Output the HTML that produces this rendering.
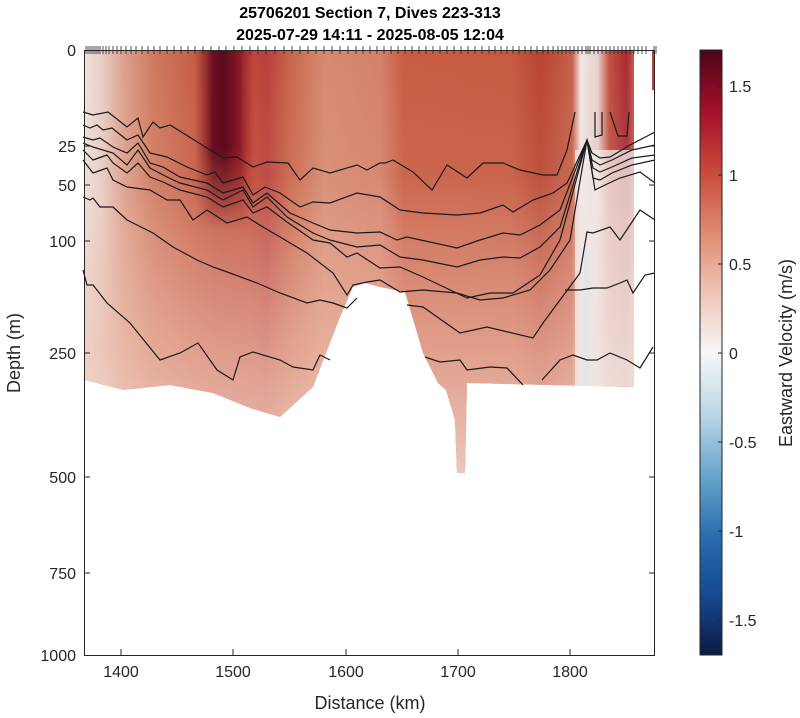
<!DOCTYPE html>
<html><head><meta charset="utf-8"><style>
body{margin:0;background:#fff;}
svg{display:block;font-family:"Liberation Sans",Arial,sans-serif;}
</style></head><body>
<svg width="800" height="718" viewBox="0 0 800 718" xmlns="http://www.w3.org/2000/svg">
<defs>
<linearGradient id="hx" x1="84" y1="0" x2="655" y2="0" gradientUnits="userSpaceOnUse">
<stop offset="0" stop-color="#eee2de"/>
<stop offset="0.03" stop-color="#e8cfc6"/>
<stop offset="0.07" stop-color="#dca08c"/>
<stop offset="0.12" stop-color="#cf7a60"/>
<stop offset="0.19" stop-color="#c65e46"/>
<stop offset="0.235" stop-color="#c0503e"/>
<stop offset="0.29" stop-color="#c04a3a"/>
<stop offset="0.32" stop-color="#b8403a"/>
<stop offset="0.36" stop-color="#c8644a"/>
<stop offset="0.42" stop-color="#d68a70"/>
<stop offset="0.52" stop-color="#d4806a"/>
<stop offset="0.56" stop-color="#c85c42"/>
<stop offset="0.75" stop-color="#c55a40"/>
<stop offset="0.8" stop-color="#b84430"/>
<stop offset="0.855" stop-color="#c66048"/>
<stop offset="0.87" stop-color="#f0e6e4"/>
<stop offset="0.9" stop-color="#e6d0cc"/>
<stop offset="0.92" stop-color="#c25040"/>
<stop offset="0.95" stop-color="#a82a34"/>
<stop offset="0.965" stop-color="#c86050"/>
<stop offset="0.966" stop-color="#ffffff"/>
<stop offset="1" stop-color="#ffffff"/>
</linearGradient>
<linearGradient id="dk" x1="195" y1="0" x2="255" y2="0" gradientUnits="userSpaceOnUse">
<stop offset="0" stop-color="#8a1a28" stop-opacity="0"/>
<stop offset="0.3" stop-color="#6a0f20"/>
<stop offset="0.5" stop-color="#5a0a1c"/>
<stop offset="0.75" stop-color="#8c1a28"/>
<stop offset="1" stop-color="#a82a2c" stop-opacity="0"/>
</linearGradient>
<linearGradient id="dkv" x1="0" y1="50" x2="0" y2="230" gradientUnits="userSpaceOnUse">
<stop offset="0" stop-color="#fff"/>
<stop offset="0.55" stop-color="#fff"/>
<stop offset="1" stop-color="#000"/>
</linearGradient>
<mask id="dm"><rect x="180" y="50" width="100" height="200" fill="url(#dkv)"/></mask>
<linearGradient id="vy" x1="0" y1="50" x2="0" y2="480" gradientUnits="userSpaceOnUse">
<stop offset="0" stop-color="#f2cfc2" stop-opacity="0"/>
<stop offset="0.3" stop-color="#f2cfc2" stop-opacity="0.1"/>
<stop offset="0.5" stop-color="#efc4b4" stop-opacity="0.4"/>
<stop offset="0.7" stop-color="#efc4b4" stop-opacity="0.65"/>
<stop offset="1" stop-color="#f3dcd4" stop-opacity="0.85"/>
</linearGradient>
<linearGradient id="cb" x1="0" y1="50" x2="0" y2="655" gradientUnits="userSpaceOnUse">
<stop offset="0" stop-color="#4a0618"/>
<stop offset="0.1" stop-color="#a50f2a"/>
<stop offset="0.2" stop-color="#c8483a"/>
<stop offset="0.3" stop-color="#de8a70"/>
<stop offset="0.4" stop-color="#efc4b4"/>
<stop offset="0.5" stop-color="#f7f7f7"/>
<stop offset="0.6" stop-color="#bcd8e6"/>
<stop offset="0.7" stop-color="#6aa6cc"/>
<stop offset="0.8" stop-color="#2a6fb0"/>
<stop offset="0.9" stop-color="#154a90"/>
<stop offset="1" stop-color="#0b1a45"/>
</linearGradient>
<clipPath id="dc"><polygon points="84,50 634,50 634,387 467,383 465,473 457,473 455,420 446,390 438,383 423,353 405,292 380,287 365,283 353,287 340,317 313,387 280,417 250,408 213,393 170,385 123,390 84,380"/></clipPath>
</defs>
<g clip-path="url(#dc)">
<rect x="84" y="50" width="571" height="440" fill="url(#hx)"/>
<rect x="84" y="50" width="571" height="440" fill="url(#vy)"/>
<rect x="195" y="50" width="60" height="200" fill="url(#dk)" mask="url(#dm)"/>
<rect x="575" y="150" width="59" height="240" fill="#f2ebea" opacity="0.75"/>
<rect x="584" y="250" width="6" height="140" fill="#dfe6ea" opacity="0.8"/>
</g>
<rect x="652" y="50" width="3" height="40" fill="#c04040"/>
<g fill="none" stroke="#1a1a1a" stroke-width="1.2">
<polyline points="83,112 93,115 108,112 127,127 138,118 143,137 153,122 160,128 170,125 183,133 223,158 237,157 253,167 267,162 288,163 300,180 313,168 330,173 357,165 367,170 380,163 385,163 393,160 413,172 432,190 447,165 467,178 483,163 503,163 520,170 543,175 557,175 567,150 575,112"/>
<polyline points="595,112 595,137 602,135 602,112"/>
<polyline points="610,112 618,136 627,136 629,112"/>
<polyline points="83,125 90,128 97,125 103,130 112,128 127,140 138,135 150,153 167,157 187,167 207,175 215,172 223,183 243,177 253,195 265,187 280,193 300,207 313,202 330,203 357,193 380,197 400,210 423,213 457,215 480,213 503,205 513,212 533,200 553,193 567,183 587,140 592,153 600,158 610,157 630,145 655,132"/>
<polyline points="83,137 93,140 100,138 113,147 127,153 138,143 150,163 163,167 180,177 207,183 223,193 243,187 253,203 267,193 290,213 313,223 330,230 357,233 380,232 397,240 407,237 430,242 457,248 480,240 503,233 520,235 540,225 560,210 587,140 592,160 600,165 612,160 632,150 655,145"/>
<polyline points="83,143 93,147 113,153 127,165 138,150 150,168 167,177 180,183 207,190 223,200 243,190 253,207 267,197 287,217 313,233 330,240 357,247 380,245 400,257 423,260 457,267 480,260 503,257 520,258 540,247 560,227 587,140 593,168 600,172 612,167 632,158 655,155"/>
<polyline points="83,150 93,160 107,155 113,163 127,173 138,163 150,177 163,182 180,190 207,197 223,207 243,200 253,213 267,207 287,222 313,240 330,243 347,257 357,253 380,268 400,267 423,277 467,298 490,293 513,293 540,275 560,240 587,140 593,178 600,180 612,173 632,165 655,160"/>
<polyline points="83,160 93,173 107,168 113,180 127,187 150,190 167,200 180,200 193,220 207,210 227,223 247,217 263,227 280,237 307,253 333,273 347,295 353,285 367,282 380,280 400,292 423,290 457,293 480,300 503,298 530,290 550,270 570,240 587,140 595,190 605,185 620,178 640,172 655,183"/>
<polyline points="83,197 90,200 93,198 100,207 113,207 127,220 153,233 173,247 197,260 213,267 230,273 257,283 280,293 307,303 320,300 333,303 347,308 357,298"/>
<polyline points="407,305 423,307 460,333 487,327 533,338 543,323 560,300 580,273 587,232 593,233 610,227 620,240 640,210 655,220"/>
<polyline points="83,270 87,285 93,285 107,303 130,323 160,360 180,353 198,343 217,370 233,380 240,357 253,352 280,360 293,367 313,370 320,355 330,360"/>
<polyline points="425,357 440,362 460,360 467,370 490,367 507,368 523,385"/>
<polyline points="542,380 560,360 573,355 587,360 597,360 610,353 627,360 640,368 653,347"/>
<polyline points="565,290 580,290 593,288 607,288 620,283 627,280 633,293 645,275 655,273"/>
</g>
<g stroke="#262626" stroke-width="1" fill="none">
<rect x="84.5" y="50.5" width="570" height="605"/>
</g>
<g stroke="#262626" stroke-width="1">
<line x1="84" y1="146" x2="90" y2="146"/><line x1="84" y1="185" x2="90" y2="185"/><line x1="84" y1="241" x2="90" y2="241"/><line x1="84" y1="353" x2="90" y2="353"/><line x1="84" y1="477" x2="90" y2="477"/><line x1="84" y1="573" x2="90" y2="573"/>
<line x1="649" y1="146" x2="655" y2="146"/><line x1="649" y1="185" x2="655" y2="185"/><line x1="649" y1="241" x2="655" y2="241"/><line x1="649" y1="353" x2="655" y2="353"/><line x1="649" y1="477" x2="655" y2="477"/><line x1="649" y1="573" x2="655" y2="573"/>
<line x1="121" y1="655" x2="121" y2="649"/><line x1="233" y1="655" x2="233" y2="649"/><line x1="346" y1="655" x2="346" y2="649"/><line x1="458" y1="655" x2="458" y2="649"/><line x1="570" y1="655" x2="570" y2="649"/>
</g>
<g stroke="#262626" stroke-width="0.8">
<path d="M86,46V54M88,46V54M90,46V54M92,46V54M94,46V54M96,46V54M98,46V54M100,46V54M103,46V54M106,46V54M109,46V54M113,46V54M117,46V54M121,46V54M126,46V54M131,46V54M136,46V54M142,46V54M148,46V54M154,46V54M160,46V54M167,46V54M174,46V54M181,46V54M188,46V54M195,46V54M203,46V54M211,46V54M219,46V54M226,46V54M234,46V54M242,46V54M250,46V54M258,46V54M266,46V54M275,46V54M284,46V54M292,46V54M300,46V54M308,46V54M316,46V54M324,46V54M332,46V54M340,46V54M348,46V54M356,46V54M363,46V54M370,46V54M377,46V54M384,46V54M391,46V54M398,46V54M405,46V54M412,46V54M419,46V54M426,46V54M433,46V54M440,46V54M447,46V54M454,46V54M461,46V54M468,46V54M475,46V54M482,46V54M489,46V54M495,46V54M501,46V54M507,46V54M513,46V54M519,46V54M525,46V54M531,46V54M537,46V54M543,46V54M548,46V54M553,46V54M558,46V54M562,46V54M566,46V54M570,46V54M574,46V54M578,46V54M582,46V54M586,46V54M588,46V54M590,46V54M594,46V54M598,46V54M602,46V54M606,46V54M610,46V54M614,46V54M618,46V54M622,46V54M626,46V54M630,46V54M634,46V54M638,46V54M642,46V54M646,46V54M654,46V54M656,46V54"/>
</g>
<g font-size="16" fill="#262626" text-anchor="end">
<text x="76" y="56">0</text><text x="76" y="152">25</text><text x="76" y="191">50</text><text x="76" y="247">100</text><text x="76" y="359">250</text><text x="76" y="483">500</text><text x="76" y="579">750</text><text x="76" y="661">1000</text>
</g>
<g font-size="16" fill="#262626" text-anchor="middle">
<text x="121" y="677">1400</text><text x="233" y="677">1500</text><text x="346" y="677">1600</text><text x="458" y="677">1700</text><text x="570" y="677">1800</text>
</g>
<text x="370" y="709" font-size="18" fill="#262626" text-anchor="middle">Distance (km)</text>
<text transform="translate(20,353) rotate(-90)" font-size="18" fill="#262626" text-anchor="middle">Depth (m)</text>
<text x="370" y="18" font-size="16" font-weight="bold" fill="#000" text-anchor="middle">25706201 Section 7, Dives 223-313</text>
<text x="370" y="40" font-size="16" font-weight="bold" fill="#000" text-anchor="middle">2025-07-29 14:11 - 2025-08-05 12:04</text>
<rect x="700" y="50" width="22" height="605" fill="url(#cb)" stroke="#262626" stroke-width="1"/>
<g stroke="#262626"><line x1="718" y1="86" x2="722" y2="86"/><line x1="718" y1="175" x2="722" y2="175"/><line x1="718" y1="264" x2="722" y2="264"/><line x1="718" y1="353" x2="722" y2="353"/><line x1="718" y1="442" x2="722" y2="442"/><line x1="718" y1="531" x2="722" y2="531"/><line x1="718" y1="620" x2="722" y2="620"/></g>
<g font-size="16" fill="#262626">
<text x="729" y="92">1.5</text><text x="729" y="181">1</text><text x="729" y="270">0.5</text><text x="729" y="359">0</text><text x="729" y="448">-0.5</text><text x="729" y="537">-1</text><text x="729" y="626">-1.5</text>
</g>
<text transform="translate(792,353) rotate(-90)" font-size="18" fill="#262626" text-anchor="middle">Eastward Velocity (m/s)</text>
</svg>
</body></html>
